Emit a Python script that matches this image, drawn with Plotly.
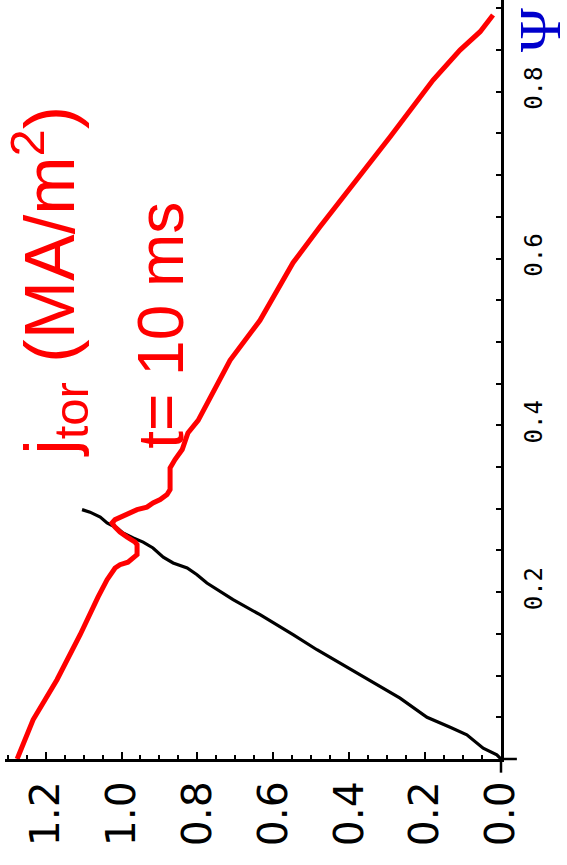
import plotly.graph_objects as go

# j_tor (MA/m^2) profile vs Psi at t = 10 ms (red)
jtor_val = [1.275, 1.233, 1.170, 1.109, 1.062, 1.038, 1.017, 1.004, 0.983, 0.969,
            0.959, 0.959, 0.964, 0.985, 1.004, 1.017, 1.025, 1.017, 1.004, 0.983,
            0.959, 0.933, 0.917, 0.898, 0.880, 0.872, 0.872, 0.872, 0.859, 0.840,
            0.825, 0.798, 0.714, 0.635, 0.548, 0.477, 0.292, 0.232, 0.179, 0.108,
            0.055, 0.021]
jtor_psi = [0.000, 0.047, 0.095, 0.149, 0.194, 0.215, 0.229, 0.233, 0.236, 0.241,
            0.245, 0.257, 0.260, 0.266, 0.272, 0.278, 0.283, 0.287, 0.290, 0.295,
            0.299, 0.302, 0.307, 0.311, 0.317, 0.323, 0.335, 0.349, 0.359, 0.371,
            0.391, 0.406, 0.478, 0.526, 0.595, 0.638, 0.746, 0.782, 0.814, 0.850,
            0.872, 0.892]

# black reference curve
blk_val = [1.104, 1.083, 1.056, 1.038, 1.012, 0.996, 0.969, 0.943, 0.917, 0.890,
           0.864, 0.827, 0.801, 0.775, 0.706, 0.635, 0.548, 0.485, 0.266, 0.195,
           0.134, 0.090, 0.047, 0.011, 0.000]
blk_psi = [0.299, 0.296, 0.290, 0.283, 0.277, 0.271, 0.265, 0.260, 0.253, 0.242,
           0.235, 0.229, 0.221, 0.211, 0.191, 0.173, 0.149, 0.131, 0.073, 0.050,
           0.038, 0.029, 0.013, 0.005, 0.000]

x_ticks = [0.0, 0.2, 0.4, 0.6, 0.8, 1.0, 1.2]
y_ticks = [0.2, 0.4, 0.6, 0.8]

fig = go.Figure()
fig.add_trace(go.Scatter(x=blk_val, y=blk_psi, mode="lines",
                         line=dict(color="black", width=3.2), cliponaxis=False,
                         showlegend=False))
fig.add_trace(go.Scatter(x=jtor_val, y=jtor_psi, mode="lines",
                         line=dict(color="#ff0000", width=5), cliponaxis=False,
                         showlegend=False))

fig.update_layout(
    width=567, height=865,
    margin=dict(l=5, r=66, t=0, b=106),
    paper_bgcolor="white", plot_bgcolor="white",
    xaxis=dict(range=[1.307, 0.0], showgrid=False, zeroline=False,
               showline=True, linecolor="black", linewidth=2.5,
               ticks="inside", ticklen=7, tickwidth=2, tickcolor="black",
               tickvals=x_ticks, ticktext=[f"{v:.1f}" for v in x_ticks],
               tickangle=-90, ticklabelstandoff=3,
               tickfont=dict(family="DejaVu Sans", size=41, color="black"),
               minor=dict(dtick=0.05, tick0=0, ticks="inside", ticklen=4,
                          tickwidth=2, tickcolor="black")),
    yaxis=dict(range=[0.0, 0.91], side="right", showgrid=False, zeroline=False,
               showline=True, linecolor="black", linewidth=2.5,
               ticks="inside", ticklen=5, tickwidth=2, tickcolor="black",
               tickvals=y_ticks, ticktext=[f"{v:.1f}" for v in y_ticks],
               tickangle=-90, ticklabelstandoff=9,
               tickfont=dict(family="DejaVu Sans Mono", size=24, color="black"),
               minor=dict(dtick=0.05, tick0=0, ticks="inside", ticklen=5,
                          tickwidth=2, tickcolor="black")),
)

# axis extensions beyond the origin
fig.add_shape(type="line", xref="paper", yref="paper", x0=1.0, x1=1.032, y0=0, y1=0,
              line=dict(color="black", width=2.5))
fig.add_shape(type="line", xref="paper", yref="paper", x0=1.0, x1=1.0, y0=0, y1=-0.018,
              line=dict(color="black", width=2.5))

fig.add_annotation(xref="paper", yref="paper", x=1.078, y=0.961, text="Ψ",
                   showarrow=False, textangle=-90, xanchor="center", yanchor="middle",
                   font=dict(family="Liberation Serif", size=60, color="#0000cc"))
fig.add_annotation(xref="paper", yref="paper", x=0.3145, y=0.572, text="t= 10 ms",
                   showarrow=False, textangle=-90, xanchor="center", yanchor="middle",
                   font=dict(family="Liberation Sans", size=64, color="#ff0000"))
fig.add_annotation(xref="paper", yref="paper", x=0.0887, y=0.630,
                   text="j<sub>tor</sub> (MA/m<sup>2</sup>)",
                   showarrow=False, textangle=-90, xanchor="center", yanchor="middle",
                   font=dict(family="Liberation Sans", size=70, color="#ff0000"))

fig.write_html("out.html")
